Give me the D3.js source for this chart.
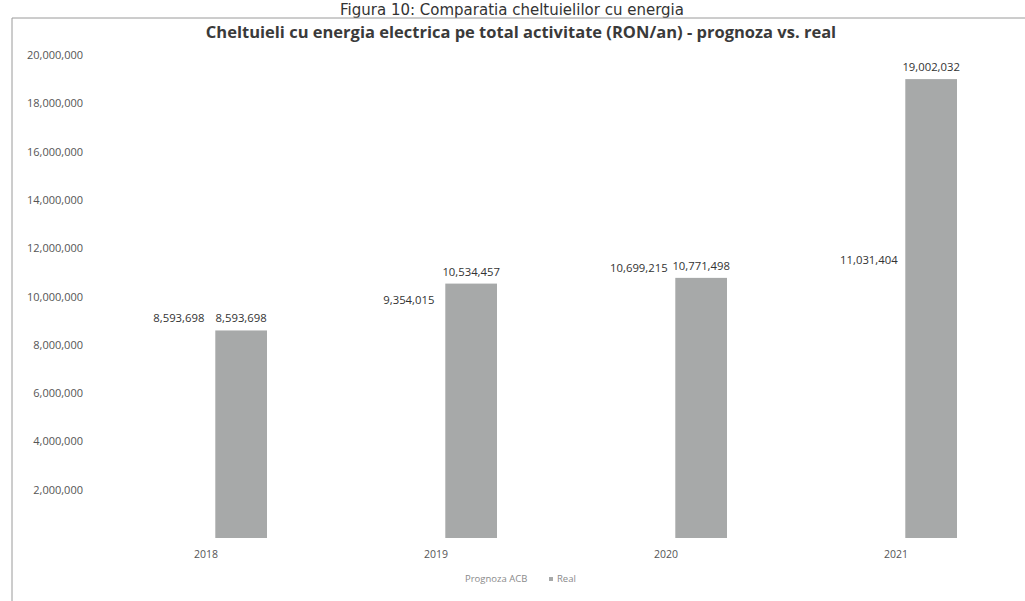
<!DOCTYPE html>
<html>
<head>
<meta charset="utf-8">
<script src="https://cdn.jsdelivr.net/npm/d3@7"></script>
<style>
  body { margin: 0; background: #fff; }
  svg { display: block; font-family: "Open Sans", "Liberation Sans", sans-serif; }
  .tick line, .domain { display: none; }
</style>
</head>
<body>
<svg width="1025" height="601"></svg>
<script>
var years = ["2018", "2019", "2020", "2021"];
var series = ["Prognoza ACB", "Real"];
var prognoza = [8593698, 9354015, 10699215, 11031404];
var real = [8593698, 10534457, 10771498, 19002032];
var yTicks = [2000000, 4000000, 6000000, 8000000, 10000000, 12000000, 14000000, 16000000, 18000000, 20000000];

var svg = d3.select("svg"),
    fmt = d3.format(",");

var colors = { "Prognoza ACB": "#ffffff", "Real": "#a7a9a9" };

// figure caption above the chart box
svg.append("text")
    .attr("x", 512)
    .attr("y", 15)
    .attr("text-anchor", "middle")
    .style("font-family", "DejaVu Sans, sans-serif")
    .style("font-size", "15px")
    .style("fill", "#333")
    .text("Figura 10: Comparatia cheltuielilor cu energia");

// chart frame
svg.append("path")
    .attr("d", "M12,601V18H1025")
    .attr("fill", "none")
    .attr("stroke", "#9a9a9a")
    .attr("stroke-width", 1);

svg.append("text")
    .attr("x", 521)
    .attr("y", 38)
    .attr("text-anchor", "middle")
    .style("font-size", "16.5px")
    .style("font-weight", "bold")
    .style("fill", "#3a3a3a")
    .text("Cheltuieli cu energia electrica pe total activitate (RON/an) - prognoza vs. real");

var y = d3.scaleLinear()
    .domain([0, 20000000])
    .range([538, 55]);

var x0 = d3.scaleBand()
    .domain(years)
    .range([95, 1015]);

var x1 = d3.scaleBand()
    .domain(series)
    .range([x0.bandwidth() / 2 - 57, x0.bandwidth() / 2 + 57])
    .paddingInner(0.17);

//y axis labels
svg.append("g")
    .attr("transform", "translate(83,0)")
    .style("color", "#555")
    .call(d3.axisLeft(y).tickValues(yTicks).tickFormat(fmt).tickSize(0).tickPadding(0))
    .call(function(g) {
        g.selectAll("text")
            .style("font-size", "11px")
            .style("font-family", "Open Sans, sans-serif");
    });

//x axis labels
svg.append("g")
    .attr("transform", "translate(-4,551)")
    .style("color", "#555")
    .call(d3.axisBottom(x0).tickSize(0).tickPadding(0))
    .call(function(g) {
        g.selectAll("text")
            .style("font-size", "10.5px")
            .style("font-family", "Open Sans, sans-serif");
    });

var rows = years.map(function(yr, i) {
    return { year: yr, values: [
        { key: "Prognoza ACB", value: prognoza[i] },
        { key: "Real", value: real[i] }
    ]};
});

var groups = svg.append("g").selectAll("g")
    .data(rows)
    .enter().append("g")
    .attr("transform", function(d) { return "translate(" + x0(d.year) + ",0)"; });

groups.selectAll("rect")
    .data(function(d) { return d.values; })
    .enter().append("rect")
    .attr("x", function(d) { return x1(d.key); })
    .attr("y", function(d) { return y(d.value); })
    .attr("width", x1.bandwidth())
    .attr("height", function(d) { return y(0) - y(d.value); })
    .attr("fill", function(d) { return colors[d.key]; });

groups.selectAll("text")
    .data(function(d) { return d.values; })
    .enter().append("text")
    .attr("x", function(d) { return x1(d.key) + x1.bandwidth() / 2; })
    .attr("y", function(d) { return y(d.value) - 8; })
    .attr("text-anchor", "middle")
    .style("font-size", "11.3px")
    .style("fill", "#333")
    .text(function(d) { return fmt(d.value); });

// legend
var legend = svg.append("g")
    .attr("transform", "translate(465,582)")
    .style("font-size", "9.5px")
    .style("fill", "#8a8a8a");

legend.append("text")
    .attr("x", 0)
    .attr("y", 0)
    .text(series[0]);

legend.append("rect")
    .attr("x", 84)
    .attr("y", -5)
    .attr("width", 4)
    .attr("height", 4)
    .attr("fill", colors["Real"]);

legend.append("text")
    .attr("x", 92)
    .attr("y", 0)
    .text(series[1]);
</script>
</body>
</html>
